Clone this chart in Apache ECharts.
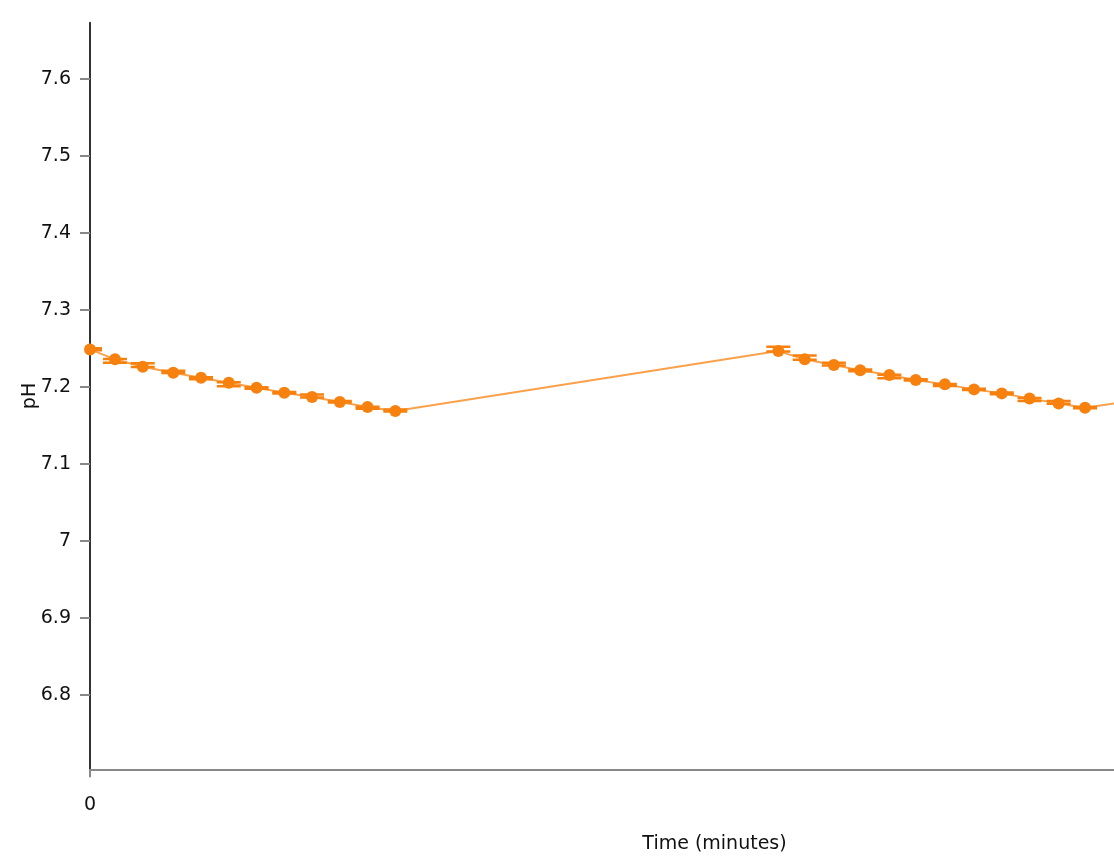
<!DOCTYPE html>
<html>
<head>
<meta charset="utf-8">
<script src="https://cdn.jsdelivr.net/npm/echarts@6/dist/echarts.min.js"></script>
<style>
  html, body { margin: 0; padding: 0; background: #fff; }
  #chart { width: 1114px; height: 858px; }
</style>
</head>
<body>
<div id="chart"></div>
<script>
// Time (minutes) for each measurement
const times = [0, 0.9, 1.9, 3, 4, 5, 6, 7, 8, 9, 10, 11,
               24.8, 25.75, 26.8, 27.75, 28.8, 29.75, 30.8, 31.85, 32.85, 33.85, 34.9, 35.85,
               49.6];
// pH values
const phValues = [7.2484, 7.2355, 7.2260, 7.2182, 7.2117, 7.2052, 7.1987, 7.1922, 7.1865, 7.1800, 7.1735, 7.1683,
                  7.2462, 7.2355, 7.2281, 7.2212, 7.2151, 7.2086, 7.2030, 7.1965, 7.1913, 7.1848, 7.1783, 7.1727,
                  7.2450];
// error bar extents (pH units above / below the value)
const errPlus  = [0.0015, 0.0005, 0.0045, 0.0025, 0.0005, 0.0005, 0.0005, 0.0010, 0.0035, 0.0015, 0.0005, 0.0020,
                  0.0055, 0.0050, 0.0030, 0.0012, 0.0005, 0.0010, 0.0005, 0.0008, 0.0010, 0.0005, 0.0030, 0.0008,
                  0];
const errMinus = [0.0010, 0.0045, 0.0005, 0.0005, 0.0022, 0.0045, 0.0015, 0.0010, 0.0005, 0.0005, 0.0020, 0.0005,
                  0.0005, 0.0005, 0.0005, 0.0010, 0.0042, 0.0005, 0.0022, 0.0008, 0.0010, 0.0035, 0.0005, 0.0008,
                  0];
const yTicks = [6.8, 6.9, 7, 7.1, 7.2, 7.3, 7.4, 7.5, 7.6];
const xTicks = [0, 45];
const yMin = 6.7031, yMax = 7.6727;

const lineData = times.map((t, i) => [t, phValues[i]]);
const errData = times.slice(0, 24).map((t, i) => [t, phValues[i] - errMinus[i], phValues[i] + errPlus[i]]);

const ORANGE = '#f7810f';
const FONT = 'DejaVu Sans';

const chart = echarts.init(document.getElementById('chart'), null, { renderer: 'canvas' });
chart.setOption({
  animation: false,
  backgroundColor: '#ffffff',
  grid: { left: 90, width: 1249, top: 22.7, bottom: 88.7, containLabel: false, outerBoundsMode: 'none' },
  xAxis: {
    type: 'value',
    min: xTicks[0], max: xTicks[1], interval: xTicks[1] - xTicks[0],
    name: 'Time (minutes)',
    nameLocation: 'middle',
    nameGap: 65,
    nameMoveOverlap: false,
    nameTextStyle: { fontFamily: FONT, fontSize: 19, color: '#111' },
    axisLine: { show: true, lineStyle: { color: '#888', width: 2 } },
    axisTick: { show: true, length: 8, lineStyle: { color: '#888', width: 2 } },
    axisLabel: { fontFamily: FONT, fontSize: 19, color: '#111', margin: 26 },
    splitLine: { show: false }
  },
  yAxis: {
    type: 'value',
    min: yMin, max: yMax,
    name: 'pH',
    nameLocation: 'middle',
    nameGap: 50,
    nameRotate: 90,
    nameMoveOverlap: false,
    nameTextStyle: { fontFamily: FONT, fontSize: 19, color: '#111' },
    axisLine: { show: true, lineStyle: { color: '#333', width: 2 } },
    axisTick: { show: true, length: 10, customValues: yTicks, lineStyle: { color: '#888', width: 2 } },
    axisLabel: { fontFamily: FONT, fontSize: 19, color: '#111', margin: 19, customValues: yTicks,
                 formatter: v => String(+(+v).toFixed(1)) },
    splitLine: { show: false }
  },
  series: [
    {
      type: 'line',
      data: lineData,
      symbol: 'circle',
      symbolSize: 12,
      showSymbol: true,
      clip: true,
      lineStyle: { color: ORANGE, width: 2, opacity: 0.75 },
      itemStyle: { color: ORANGE },
      z: 3
    },
    {
      type: 'custom',
      clip: true,
      data: errData,
      encode: { x: 0, y: [1, 2] },
      z: 2,
      renderItem: function (params, api) {
        const x = api.value(0);
        const lo = api.coord([x, api.value(1)]);
        const hi = api.coord([x, api.value(2)]);
        const w = 12;
        const style = { stroke: ORANGE, lineWidth: 2.5 };
        return {
          type: 'group',
          children: [
            { type: 'line', shape: { x1: lo[0], y1: lo[1], x2: hi[0], y2: hi[1] }, style: style },
            { type: 'line', shape: { x1: lo[0] - w, y1: lo[1], x2: lo[0] + w, y2: lo[1] }, style: style },
            { type: 'line', shape: { x1: hi[0] - w, y1: hi[1], x2: hi[0] + w, y2: hi[1] }, style: style }
          ]
        };
      }
    }
  ]
});
</script>
</body>
</html>
